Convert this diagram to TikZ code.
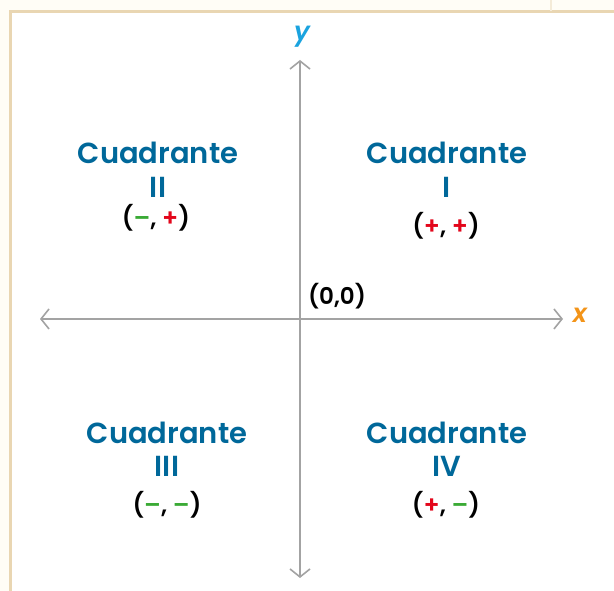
\documentclass[tikz,border=0pt]{standalone}
\usepackage{fontspec}
\setmainfont{Poppins}[BoldFont={Poppins SemiBold}]
\usetikzlibrary{arrows.meta}
\definecolor{cream}{HTML}{FFFDF6}
\definecolor{frame}{HTML}{E9D6B2}
\definecolor{axisgray}{HTML}{A3A3A3}
\definecolor{quadblue}{HTML}{00689A}
\definecolor{ycol}{HTML}{1AA3DF}
\definecolor{xcol}{HTML}{F39419}
\definecolor{plusred}{HTML}{E3061B}
\definecolor{minusgreen}{HTML}{3AAA35}
\tikzset{
  axis/.style={draw=axisgray, line width=1.6pt, -{Straight Barb[length=8pt,width=20pt,line width=1.6pt]}},
  quad/.style={text=quadblue, font=\bfseries\fontsize{29}{34}\selectfont, align=center, inner sep=0pt},
  sign/.style={text=black, font=\bfseries\fontsize{24}{28}\selectfont, inner sep=0pt},
}
\newcommand{\pl}{\textcolor{plusred}{+}}
\newcommand{\mi}{\textcolor{minusgreen}{–}}
\begin{document}
\begin{tikzpicture}[x=1pt,y=1pt]
\useasboundingbox (0,0) rectangle (614,591);
\fill[cream] (0,0) rectangle (614,591);
\fill[white] (10,0) rectangle (614,579);
\draw[frame, line width=2.5pt] (10.5,0) -- (10.5,579.5) -- (614,579.5);
\draw[frame!50, line width=1.5pt] (551,579.5) -- (551,591);
% axes
\coordinate (O) at (300,272);
\coordinate (ytop) at (300,531);
\coordinate (ybot) at (300,13);
\coordinate (xl) at (40,272);
\coordinate (xr) at (563,272);
\draw[axis] (O) -- (ytop);
\draw[axis] (O) -- (ybot);
\draw[axis] (O) -- (xl);
\draw[axis] (O) -- (xr);
\node[text=ycol, font=\bfseries\itshape\fontsize{26}{30}\selectfont] (ylab) at (302,554) {y};
\node[text=xcol, font=\bfseries\itshape\fontsize{26}{30}\selectfont] (xlab) at (580,276) {x};
\node[font=\bfseries\fontsize{23}{27}\selectfont, inner sep=0pt] (orig) at (337,295) {(0,0)};
% quadrants
\node[quad] (q2) at (158,438) {Cuadrante};
\node[quad] (q2n) at (158,404) {II};
\node[sign] (q2s) at (156,373) {(\mi, \pl)};
\node[quad] (q1) at (447,438) {Cuadrante};
\node[quad] (q1n) at (447,404) {I};
\node[sign] (q1s) at (446,365) {(\pl, \pl)};
\node[quad] (q3) at (167,158) {Cuadrante};
\node[quad] (q3n) at (167,125) {III};
\node[sign] (q3s) at (167,86) {(\mi, \mi)};
\node[quad] (q4) at (447,158) {Cuadrante};
\node[quad] (q4n) at (447,125) {IV};
\node[sign] (q4s) at (446,86) {(\pl, \mi)};
\end{tikzpicture}
\end{document}
